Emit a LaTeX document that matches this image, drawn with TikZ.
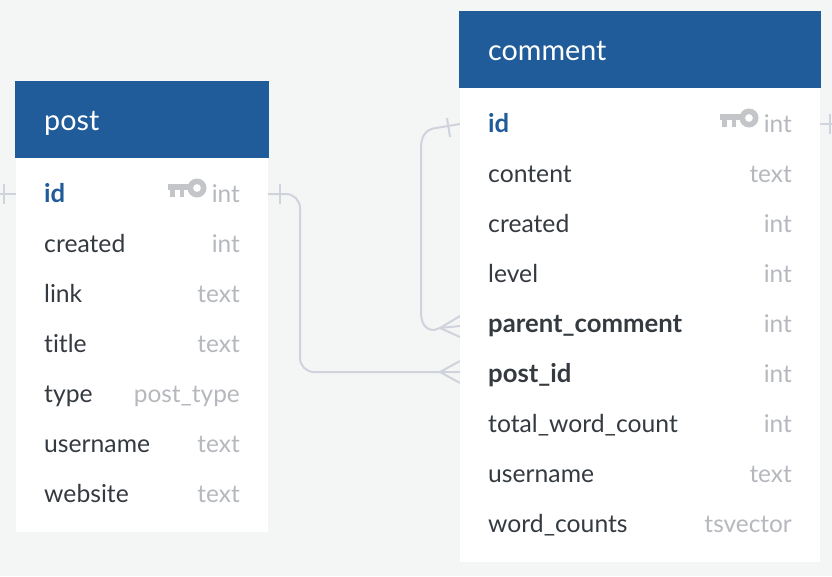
\documentclass[tikz,border=0pt]{standalone}
\usepackage{fontspec}
\setmainfont{Lato}[Ligatures=NoCommon]
\usetikzlibrary{positioning,calc}
\definecolor{azul}{HTML}{205C99}
\definecolor{fondo}{HTML}{F4F6F6}
\definecolor{linea}{HTML}{D0D2DC}
\definecolor{llavegris}{HTML}{C4C5C9}
\definecolor{tipogris}{HTML}{B5B8BD}
\definecolor{texto}{HTML}{343A40}
\tikzset{
  cabecera/.style={fill=azul,inner sep=0pt,minimum height=77pt},
  cuerpo/.style={fill=white,inner sep=0pt},
  titulo/.style={anchor=west,inner sep=0pt,text=white,font=\fontsize{28.7}{32}\selectfont,text height=20pt,text depth=6pt},
  campo/.style={anchor=west,inner sep=0pt,text=texto,font=\fontsize{24.7}{28}\selectfont,text height=20pt,text depth=4pt},
  campob/.style={campo,font=\fontsize{25.7}{28}\selectfont\bfseries},
  campoid/.style={campob,text=azul},
  tipo/.style={anchor=east,inner sep=0pt,text=tipogris,font=\fontsize{24.4}{28}\selectfont,text height=20pt,text depth=4pt},
  enlace/.style={draw=linea,line width=2pt},
  llave/.pic={
    \fill[llavegris,even odd rule] (0,0) circle (9.5pt) (0,0) circle (4pt);
    \fill[llavegris] (-29,-4) rectangle (-7,2);
    \fill[llavegris] (-27,2) rectangle (-22,9);
    \fill[llavegris] (-17,2) rectangle (-13,9);
  },
}
\begin{document}
\begin{tikzpicture}[x=1pt,y=-1pt]
  \useasboundingbox[fill=fondo] (0,0) rectangle (832,576);
  % nodos invisibles de las tablas
  \coordinate (postizq) at (16,194);
  \coordinate (postder) at (268,194);
  \coordinate (comizq) at (460,124);
  \coordinate (comder) at (820,124);
  \coordinate (fuera1) at (0,194);
  \coordinate (fuera2) at (832,124);
  % enlaces (van debajo de las tablas)
  \coordinate (pata1) at (460,372);
  \coordinate (punta1) at (440,372);
  \coordinate (pata2) at (460,326);
  \coordinate (punta2) at (440,328);
  \draw[enlace] (fuera1) -- (postizq);
  \draw[enlace] (4,184) -- (4,204);
  \draw[enlace] (comder) -- (fuera2);
  \draw[enlace] (830,114) -- (830,134);
  \draw[enlace,rounded corners=14pt] (postder) -- (300,194) -- (300,372) -- (pata1);
  \draw[enlace] (280,184) -- (280,204);
  \draw[enlace] (punta1) -- (460,361);
  \draw[enlace] (punta1) -- (460,383);
  \draw[enlace] (comizq) -- (436,128) .. controls (426,129) and (421,136) .. (421,148) -- (421,312) .. controls (421,324) and (426,330) .. (434,330) -- (punta2) -- (pata2);
  \draw[enlace] (447,118) -- (450,137);
  \draw[enlace] (punta2) -- (460,316);
  \draw[enlace] (punta2) -- (460,337);
  % tabla post
  \node[cuerpo,minimum width=252pt,minimum height=374pt] (post) at (142,345) {};
  \node[cabecera,minimum width=254pt] (postcab) at (142,119.5) {};
  \node[titulo] (posttit) at (44,123) {post};
  \node[campoid] (p1) at (44,194) {id};
  \node[campo] (p2) at (44,244) {created};
  \node[campo] (p3) at (44,294) {link};
  \node[campo] (p4) at (44,344) {title};
  \node[campo] (p5) at (44,394) {type};
  \node[campo] (p6) at (44,444) {username};
  \node[campo] (p7) at (44,494) {website};
  \node[tipo] (pt1) at (240,194) {int};
  \node[tipo] (pt2) at (240,244) {int};
  \node[tipo] (pt3) at (240,294) {text};
  \node[tipo] (pt4) at (240,344) {text};
  \node[tipo] (pt5) at (240,394) {post\_type};
  \node[tipo] (pt6) at (240,444) {text};
  \node[tipo] (pt7) at (240,494) {text};
  \pic at (197,188) {llave};
  % tabla comment
  \node[cuerpo,minimum width=360pt,minimum height=474pt] (com) at (640,325) {};
  \node[cabecera,minimum width=362pt] (comcab) at (640,49.5) {};
  \node[titulo] (comtit) at (488,53) {comment};
  \node[campoid] (c1) at (488,124) {id};
  \node[campo] (c2) at (488,174) {content};
  \node[campo] (c3) at (488,224) {created};
  \node[campo] (c4) at (488,274) {level};
  \node[campob] (c5) at (488,324) {parent\_comment};
  \node[campob] (c6) at (488,374) {post\_id};
  \node[campo] (c7) at (488,424) {total\_word\_count};
  \node[campo] (c8) at (488,474) {username};
  \node[campo] (c9) at (488,524) {word\_counts};
  \node[tipo] (ct1) at (792,124) {int};
  \node[tipo] (ct2) at (792,174) {text};
  \node[tipo] (ct3) at (792,224) {int};
  \node[tipo] (ct4) at (792,274) {int};
  \node[tipo] (ct5) at (792,324) {int};
  \node[tipo] (ct6) at (792,374) {int};
  \node[tipo] (ct7) at (792,424) {int};
  \node[tipo] (ct8) at (792,474) {text};
  \node[tipo] (ct9) at (792,524) {tsvector};
  \pic at (749,118) {llave};
\end{tikzpicture}
\end{document}
